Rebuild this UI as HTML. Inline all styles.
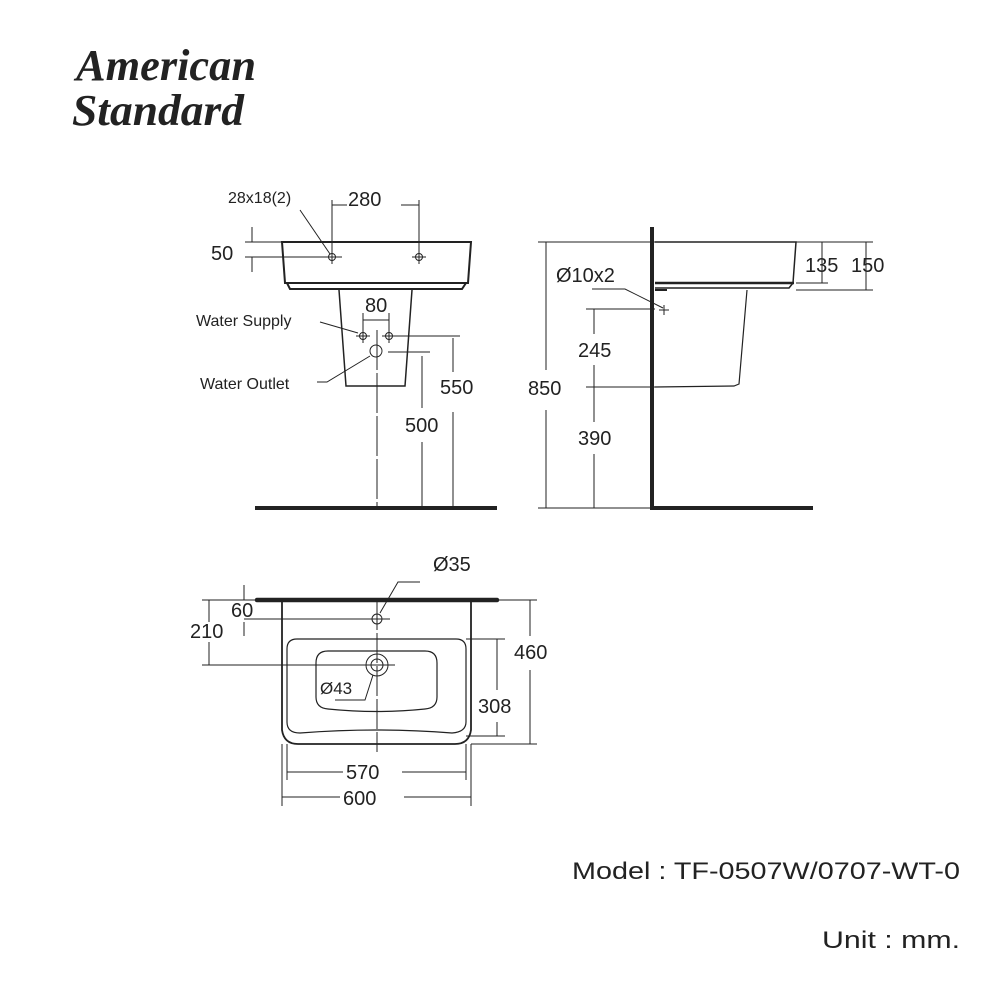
<!DOCTYPE html>
<html><head><meta charset="utf-8"><style>
html,body{margin:0;padding:0;background:#fff;}
svg{display:block}
text{font-family:"Liberation Sans",sans-serif;fill:#222}
</style></head><body>
<svg width="1000" height="1000" viewBox="0 0 1000 1000">
<!-- Logo -->
<text x="76" y="80" font-family="Liberation Serif" font-style="italic" font-weight="bold" font-size="44" style="font-family:'Liberation Serif',serif" textLength="180" lengthAdjust="spacingAndGlyphs" fill="#111">American</text>
<text x="72" y="125" font-family="Liberation Serif" font-style="italic" font-weight="bold" font-size="44" style="font-family:'Liberation Serif',serif" textLength="172" lengthAdjust="spacingAndGlyphs" fill="#111">Standard</text>

<g stroke="#222" stroke-width="1" fill="none">
<!-- FRONT VIEW -->
<path d="M282 242 L471 242 L468 283 L285 283 Z" stroke-width="2"/>
<path d="M287 283 L290 289 L462 289 L466 283" stroke-width="2"/>
<path d="M339 290 L346 386 L405 386 L412 290" stroke-width="1.5"/>
<line x1="332" y1="200" x2="332" y2="252"/>
<line x1="419" y1="200" x2="419" y2="252"/>
<line x1="332" y1="205" x2="347" y2="205"/>
<line x1="401" y1="205" x2="419" y2="205"/>
<path d="M300 210 L330 254"/>
<line x1="245" y1="242" x2="282" y2="242"/>
<line x1="245" y1="257" x2="342" y2="257"/>
<line x1="252" y1="227" x2="252" y2="242"/>
<line x1="252" y1="257" x2="252" y2="272"/>
<circle cx="332" cy="257" r="3.5"/><line x1="325" y1="257" x2="339" y2="257"/><line x1="332" y1="250" x2="332" y2="264"/>
<circle cx="419" cy="257" r="3.5"/><line x1="412" y1="257" x2="426" y2="257"/><line x1="419" y1="250" x2="419" y2="264"/>
<circle cx="363" cy="336" r="3.5"/><line x1="356" y1="336" x2="370" y2="336"/><line x1="363" y1="313" x2="363" y2="343"/>
<circle cx="389" cy="336" r="3.5"/><line x1="382" y1="336" x2="460" y2="336"/><line x1="389" y1="313" x2="389" y2="343"/>
<line x1="363" y1="320" x2="389" y2="320"/>
<circle cx="376" cy="351" r="6"/>
<line x1="388" y1="352" x2="430" y2="352"/>
<line x1="377" y1="330" x2="377" y2="506" stroke-dasharray="40 3"/>
<line x1="453" y1="338" x2="453" y2="372"/><line x1="453" y1="412" x2="453" y2="506"/>
<line x1="422" y1="356" x2="422" y2="408"/><line x1="422" y1="442" x2="422" y2="506"/>
<path d="M320 322 L358 333"/>
<path d="M317 382 L327 382 L370 356"/>
<line x1="255" y1="508" x2="497" y2="508" stroke-width="4"/>

<!-- SIDE VIEW -->
<line x1="652" y1="227" x2="652" y2="508" stroke-width="4"/>
<line x1="650" y1="508" x2="813" y2="508" stroke-width="4"/>
<path d="M655 242 L796 242 L793 283" stroke-width="1.5"/>
<line x1="655" y1="283" x2="794" y2="283" stroke-width="2.5"/>
<path d="M793 283 L789 288 L655 288" stroke-width="1.5"/>
<line x1="655" y1="290" x2="667" y2="290" stroke-width="2"/>
<path d="M747 290 L739 384 L734 386 L655 387" stroke-width="1.2"/>
<line x1="538" y1="242" x2="655" y2="242"/>
<line x1="538" y1="508" x2="652" y2="508"/>
<line x1="546" y1="242" x2="546" y2="370"/><line x1="546" y1="410" x2="546" y2="508"/>
<line x1="586" y1="309" x2="655" y2="309"/>
<line x1="586" y1="387" x2="655" y2="387"/>
<line x1="594" y1="309" x2="594" y2="334"/><line x1="594" y1="365" x2="594" y2="422"/><line x1="594" y1="454" x2="594" y2="508"/>
<path d="M592 289 L625 289 L663 308"/>
<line x1="659" y1="310" x2="669" y2="310"/><line x1="664" y1="305" x2="664" y2="315"/>
<line x1="796" y1="242" x2="873" y2="242"/>
<line x1="796" y1="283" x2="828" y2="283"/>
<line x1="796" y1="290" x2="873" y2="290"/>
<line x1="822" y1="242" x2="822" y2="283"/>
<line x1="866" y1="242" x2="866" y2="290"/>

<!-- TOP VIEW -->
<line x1="257" y1="600" x2="497" y2="600" stroke-width="4.5" stroke-linecap="round"/>
<path d="M282 600 L282 730 Q284 744 298 744 L455 744 Q469 744 471 730 L471 600" stroke-width="1.8"/>
<path d="M297 639 L456 639 Q466 639 466 649 L466 722 Q466 732 452 733 Q377 727 300 733 Q287 733 287 722 L287 649 Q287 639 297 639 Z" stroke-width="1.2"/>
<path d="M328 651 L425 651 Q437 651 437 663 L437 697 Q437 708 425 709 Q377 714 328 709 Q316 708 316 697 L316 663 Q316 651 328 651 Z" stroke-width="1.2"/>
<circle cx="377" cy="619" r="5"/>
<circle cx="377" cy="665" r="11"/><circle cx="377" cy="665" r="6"/>
<line x1="377" y1="600" x2="377" y2="752" stroke-dasharray="30 3"/>
<line x1="202" y1="600" x2="282" y2="600"/>
<line x1="244" y1="619" x2="390" y2="619"/>
<line x1="202" y1="665" x2="395" y2="665"/>
<line x1="244" y1="585" x2="244" y2="600"/><line x1="244" y1="622" x2="244" y2="636"/>
<line x1="209" y1="600" x2="209" y2="622"/><line x1="209" y1="642" x2="209" y2="665"/>
<path d="M420 582 L398 582 L380 613"/>
<path d="M335 700 L365 700 L373 675"/>
<line x1="471" y1="600" x2="537" y2="600"/>
<line x1="471" y1="744" x2="537" y2="744"/>
<line x1="530" y1="600" x2="530" y2="636"/><line x1="530" y1="670" x2="530" y2="744"/>
<line x1="466" y1="639" x2="505" y2="639"/>
<line x1="466" y1="736" x2="505" y2="736"/>
<line x1="497" y1="639" x2="497" y2="690"/><line x1="497" y1="722" x2="497" y2="736"/>
<line x1="287" y1="744" x2="287" y2="780"/><line x1="466" y1="744" x2="466" y2="780"/>
<line x1="282" y1="744" x2="282" y2="806"/><line x1="471" y1="744" x2="471" y2="806"/>
<line x1="287" y1="772" x2="343" y2="772"/><line x1="402" y1="772" x2="466" y2="772"/>
<line x1="282" y1="797" x2="340" y2="797"/><line x1="404" y1="797" x2="471" y2="797"/>
</g>

<g font-size="20">
<text x="228" y="203" font-size="16">28x18(2)</text>
<text x="348" y="206">280</text>
<text x="211" y="260">50</text>
<text x="365" y="312">80</text>
<text x="196" y="326" font-size="16">Water Supply</text>
<text x="200" y="389" font-size="16">Water Outlet</text>
<text x="440" y="394">550</text>
<text x="405" y="432">500</text>
<text x="556" y="282">Ø10x2</text>
<text x="578" y="357">245</text>
<text x="528" y="395">850</text>
<text x="578" y="445">390</text>
<text x="805" y="272">135</text>
<text x="851" y="272">150</text>
<text x="433" y="571">Ø35</text>
<text x="231" y="617">60</text>
<text x="190" y="638">210</text>
<text x="320" y="694" font-size="17">Ø43</text>
<text x="514" y="659">460</text>
<text x="478" y="713">308</text>
<text x="346" y="779">570</text>
<text x="343" y="805">600</text>
</g>
<text x="572" y="879" font-size="24" textLength="388" lengthAdjust="spacingAndGlyphs">Model : TF-0507W/0707-WT-0</text>
<text x="822" y="948" font-size="24" textLength="138" lengthAdjust="spacingAndGlyphs">Unit : mm.</text>
</svg>
</body></html>
